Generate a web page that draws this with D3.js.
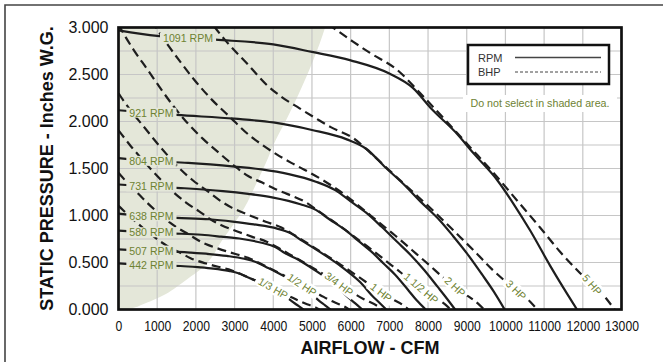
<!DOCTYPE html>
<html>
<head>
<meta charset="utf-8">
<script src="https://cdn.jsdelivr.net/npm/d3@7"></script>
<style>
  body { margin: 0; background: #fff; }
  svg { display: block; font-family: "Liberation Sans", Arial, sans-serif; }
</style>
</head>
<body>
<div class="fan_chart"></div>
<script>
// Axis ticks and grid
const xTicks = [0, 1000, 2000, 3000, 4000, 5000, 6000, 7000, 8000, 9000, 10000, 11000, 12000, 13000];
const yTicks = [0, 0.5, 1, 1.5, 2, 2.5, 3];
const yGrid = [0.25, 0.5, 0.75, 1, 1.25, 1.5, 1.75, 2, 2.25, 2.5, 2.75];

// Shaded "do not select" boundary [cfm, pressure]
const shadeEdge = [[0,0],[300,0.01],[600,0.05],[900,0.1],[1200,0.16],[1500,0.24],[1800,0.33],[2100,0.42],[2300,0.5],[2700,0.75],[3000,0.92],[3250,1.08],[3550,1.33],[3800,1.55],[4060,1.8],[4350,2.03],[4610,2.25],[4850,2.47],[5030,2.65],[5200,2.83],[5340,3.0]];

// RPM curves (solid) [cfm, static pressure]
const rpm1091 = [[0,2.97],[1000,2.91],[2500,2.87],[4000,2.82],[5000,2.74],[6000,2.65],[7000,2.51],[7600,2.36],[8100,2.13],[8700,1.89],[9200,1.65],[9800,1.37],[10200,1.13],[10640,0.84],[11150,0.47],[11500,0.23],[11850,0]];
const rpm921 = [[0,2.12],[1500,2.07],[3000,2.03],[4000,1.99],[5000,1.91],[5900,1.81],[6400,1.71],[6900,1.51],[7350,1.34],[7800,1.15],[8300,0.95],[8650,0.78],[9000,0.6],[9400,0.37],[9700,0.19],[9980,0]];
const rpm804 = [[0,1.61],[800,1.58],[1800,1.56],[3000,1.52],[3700,1.49],[4400,1.44],[5100,1.36],[5600,1.27],[6000,1.15],[6400,1.03],[6800,0.88],[7200,0.72],[7550,0.58],[7900,0.42],[8250,0.24],[8480,0.12],[8700,0]];
const rpm731 = [[0,1.33],[700,1.31],[1700,1.29],[2700,1.26],[3350,1.23],[4000,1.19],[4700,1.12],[5100,1.06],[5450,0.96],[5850,0.85],[6200,0.73],[6550,0.61],[6850,0.49],[7150,0.37],[7500,0.2],[7700,0.1],[7940,0]];
const rpm638 = [[0,1.02],[600,0.995],[1500,0.975],[2350,0.96],[2950,0.935],[3500,0.905],[4100,0.86],[4450,0.81],[4750,0.73],[5100,0.64],[5400,0.56],[5750,0.46],[6000,0.38],[6250,0.29],[6550,0.15],[6750,0.07],[6920,0]];
const rpm580 = [[0,0.84],[550,0.825],[1350,0.81],[2150,0.795],[2650,0.775],[3200,0.75],[3700,0.71],[4050,0.665],[4300,0.6],[4650,0.53],[4900,0.465],[5200,0.385],[5430,0.315],[5650,0.245],[5930,0.13],[6120,0.065],[6300,0]];
const rpm507 = [[0,0.64],[470,0.63],[1150,0.62],[1850,0.605],[2350,0.59],[2800,0.57],[3250,0.54],[3550,0.505],[3800,0.455],[4050,0.405],[4300,0.35],[4550,0.29],[4750,0.235],[4950,0.175],[5180,0.095],[5340,0.045],[5480,0]];
const rpm442 = [[0,0.49],[400,0.48],[1000,0.47],[1600,0.463],[2050,0.45],[2450,0.435],[2850,0.41],[3100,0.385],[3300,0.35],[3550,0.305],[3750,0.265],[4000,0.215],[4150,0.18],[4330,0.135],[4520,0.075],[4650,0.038],[4780,0]];

const rpmCurves = [rpm1091, rpm921, rpm804, rpm731, rpm638, rpm580, rpm507, rpm442];
const rpmNames = ["1091 RPM", "921 RPM", "804 RPM", "731 RPM", "638 RPM", "580 RPM", "507 RPM", "442 RPM"];
const rpmLabelCfm = [1150, 280, 280, 280, 280, 280, 280, 280];

// BHP curves (dashed) [cfm, static pressure]
const hp13 = [[0,1.104],[58,1.081],[239,1.009],[446,0.935],[648,0.861],[863,0.79],[1069,0.727],[1328,0.659],[1580,0.607],[1863,0.546],[2025,0.52],[2246,0.492],[2454,0.467],[2633,0.448],[2916,0.418],[3159,0.377],[3434,0.328],[3677,0.284],[3929,0.238],[4172,0.19],[4415,0.143],[4617,0.102],[4828,0.064],[5103,0.02],[5192,0]];
const hp12 = [[0,1.454],[66,1.423],[274,1.328],[512,1.231],[744,1.134],[990,1.041],[1228,0.957],[1525,0.868],[1814,0.799],[2139,0.719],[2325,0.685],[2578,0.648],[2818,0.616],[3023,0.59],[3348,0.551],[3627,0.497],[3943,0.432],[4222,0.374],[4511,0.313],[4790,0.251],[5069,0.188],[5301,0.134],[5543,0.084],[5859,0.026],[5961,0]];
const hp34 = [[0,1.905],[76,1.865],[314,1.74],[585,1.61],[851,1.486],[1133,1.364],[1404,1.254],[1745,1.138],[2075,1.047],[2447,0.942],[2660,0.897],[2950,0.849],[3224,0.807],[3458,0.773],[3830,0.722],[4150,0.651],[4511,0.566],[4831,0.49],[5160,0.41],[5480,0.328],[5799,0.246],[6065,0.175],[6341,0.11],[6703,0.034],[6820,0]];
const hp1 = [[0,2.3],[83,2.25],[345,2.1],[644,1.95],[936,1.8],[1246,1.65],[1544,1.515],[1919,1.375],[2282,1.265],[2691,1.14],[2925,1.084],[3244,1.026],[3545,0.975],[3803,0.934],[4212,0.872],[4563,0.787],[4961,0.684],[5312,0.592],[5675,0.496],[6026,0.397],[6377,0.298],[6669,0.212],[6973,0.133],[7371,0.041],[7500,0]];
const hp15 = [[0,3.03],[95,2.96],[395,2.76],[737,2.56],[1072,2.36],[1427,2.16],[1769,1.99],[2198,1.81],[2613,1.66],[3082,1.5],[3350,1.42],[3715,1.35],[4060,1.28],[4355,1.23],[4824,1.145],[5226,1.03],[5682,0.9],[6084,0.777],[6499,0.651],[6901,0.521],[7303,0.391],[7638,0.278],[7986,0.175],[8442,0.054],[8589,0]];
const hp2 = [[105,3.58],[435,3.34],[811,3.1],[1179,2.87],[1570,2.65],[1946,2.45],[2417,2.23],[2874,2.05],[3390,1.85],[3685,1.76],[4087,1.65],[4466,1.56],[4791,1.49],[5306,1.37],[5749,1.25],[6250,1.09],[6692,0.94],[7149,0.787],[7591,0.63],[8033,0.472],[8402,0.337],[8785,0.212],[9286,0.065],[9448,0]];
const hp3 = [[120,4.69],[928,4.06],[1798,3.43],[2228,3.15],[2768,2.86],[3292,2.63],[3882,2.37],[4220,2.26],[4680,2.14],[5115,2.03],[5486,1.94],[6077,1.82],[6583,1.64],[7157,1.42],[7664,1.23],[8187,1.03],[8693,0.826],[9200,0.62],[9622,0.44],[10060,0.278],[10634,0.085],[10820,0]];
const hp5 = [[4600,3.33],[5000,3.17],[5545,3.0],[6060,2.85],[6500,2.73],[7200,2.55],[7800,2.3],[8480,2.0],[9080,1.73],[9700,1.45],[10300,1.16],[10900,0.87],[11400,0.62],[11920,0.39],[12600,0.12],[12820,0]];

const hpCurves = [hp13, hp12, hp34, hp1, hp15, hp2, hp3, hp5];
const hpNames = ["1/3 HP", "1/2 HP", "3/4 HP", "1 HP", "1 1/2 HP", "2 HP", "3 HP", "5 HP"];
const hpLabelCfm = [3993, 4743, 5698, 6785, 7819, 8697, 10274, 12238];

const labelGreen = "#6e8232";
const shadeColor = "#e4e7d9";

function createFanChart() {
  const width = 663, height = 362;

  const svg = d3.select(".fan_chart").append("svg")
      .attr("width", width)
      .attr("height", height);

  const x = d3.scaleLinear().domain([0, 13000]).range([118.5, 621.5]);
  const y = d3.scaleLinear().domain([0, 3]).range([309.5, 27.5]);

  // outer frame (top and left only)
  svg.append("path")
      .attr("d", `M5,${height}V5H${width}`)
      .attr("fill", "none")
      .attr("stroke", "#444")
      .attr("stroke-width", 1.6);

  svg.append("clipPath").attr("id", "plotClip")
    .append("rect")
      .attr("x", x(0)).attr("y", y(3))
      .attr("width", x(13000) - x(0)).attr("height", y(0) - y(3));

  const plot = svg.append("g").attr("clip-path", "url(#plotClip)");

  // shaded area
  const shadeArea = d3.area()
      .x0(x(0))
      .x1(d => x(d[0]))
      .y(d => y(d[1]))
      .curve(d3.curveMonotoneY);
  plot.append("path")
      .datum(shadeEdge)
      .attr("fill", shadeColor)
      .attr("d", shadeArea);

  // grid
  plot.append("g").selectAll("line")
      .data(xTicks)
      .enter().append("line")
      .attr("x1", d => x(d)).attr("x2", d => x(d))
      .attr("y1", y(0)).attr("y2", y(3))
      .attr("stroke", "#c6c6c6").attr("stroke-width", 1.2);
  plot.append("g").selectAll("line")
      .data(yGrid)
      .enter().append("line")
      .attr("x1", x(0)).attr("x2", x(13000))
      .attr("y1", d => y(d)).attr("y2", d => y(d))
      .attr("stroke", "#c6c6c6").attr("stroke-width", 1.2);

  const line = d3.line()
      .x(d => x(d[0]))
      .y(d => y(d[1]))
      .curve(d3.curveMonotoneX);

  // BHP dashed curves
  plot.append("g").selectAll("path")
      .data(hpCurves)
      .enter().append("path")
      .attr("d", line)
      .attr("fill", "none")
      .attr("stroke", "#1e1e1e")
      .attr("stroke-width", 2.2)
      .attr("stroke-dasharray", "9,5");

  // RPM solid curves
  plot.append("g").selectAll("path")
      .data(rpmCurves)
      .enter().append("path")
      .attr("d", line)
      .attr("fill", "none")
      .attr("stroke", "#1e1e1e")
      .attr("stroke-width", 2.2);

  function pressureAt(curve, cfm) {
    for (let i = 0; i < curve.length - 1; i++) {
      const a = curve[i], b = curve[i + 1];
      if (cfm >= a[0] && cfm <= b[0]) {
        return a[1] + (b[1] - a[1]) * (cfm - a[0]) / (b[0] - a[0]);
      }
    }
    return curve[curve.length - 1][1];
  }

  // RPM labels, with a gap in the line behind them
  rpmNames.forEach((name, i) => {
    const c = rpmLabelCfm[i];
    const g = plot.append("g")
        .attr("transform", `translate(${x(c)},${y(pressureAt(rpmCurves[i], c + 600))})`);
    const t = g.append("text")
        .attr("dy", "0.35em")
        .style("font-size", "10.6px")
        .style("fill", labelGreen)
        .text(name);
    const bb = t.node().getBBox();
    g.insert("rect", "text")
        .attr("x", bb.x - 3).attr("y", bb.y + 1)
        .attr("width", bb.width + 6).attr("height", bb.height - 2)
        .attr("fill", shadeColor);
  });

  // BHP labels, rotated along the dashed line
  hpNames.forEach((name, i) => {
    const c = hpLabelCfm[i];
    const curve = hpCurves[i];
    const px = x(c), py = y(pressureAt(curve, c));
    const ax = x(c - 150), ay = y(pressureAt(curve, c - 150));
    const bx = x(c + 150), by = y(pressureAt(curve, c + 150));
    const angle = Math.atan2(by - ay, bx - ax) * 180 / Math.PI + 5;
    const g = plot.append("g")
        .attr("transform", `translate(${px},${py}) rotate(${angle})`);
    const t = g.append("text")
        .attr("text-anchor", "middle")
        .attr("dy", "0.35em")
        .style("font-size", "10.6px")
        .style("fill", labelGreen)
        .text(name);
    const bb = t.node().getBBox();
    g.insert("rect", "text")
        .attr("x", bb.x - 3).attr("y", bb.y)
        .attr("width", bb.width + 6).attr("height", bb.height)
        .attr("fill", "#fff");
  });

  // plot frame
  svg.append("rect")
      .attr("x", x(0)).attr("y", y(3))
      .attr("width", x(13000) - x(0)).attr("height", y(0) - y(3))
      .attr("fill", "none")
      .attr("stroke", "#111")
      .attr("stroke-width", 2.7);

  // axes
  const xAxis = svg.append("g")
      .attr("transform", `translate(0,${y(0)})`)
      .call(d3.axisBottom(x).tickValues(xTicks).tickFormat(d3.format("d")).tickSize(0).tickPadding(11));
  xAxis.select(".domain").remove();
  xAxis.selectAll("text")
      .attr("transform", "scale(0.84,1)")
      .style("font-size", "14.5px")
      .style("fill", "#111")
      .style("font-family", '"Liberation Sans", Arial, sans-serif');

  const yAxis = svg.append("g")
      .attr("transform", `translate(${x(0)},0)`)
      .call(d3.axisLeft(y).tickValues(yTicks).tickFormat(d3.format(".3f")).tickSize(0).tickPadding(10));
  yAxis.select(".domain").remove();
  yAxis.selectAll("text")
      .style("font-size", "16px")
      .style("fill", "#111")
      .style("font-family", '"Liberation Sans", Arial, sans-serif');

  // axis titles
  svg.append("text")
      .attr("x", (x(0) + x(13000)) / 2)
      .attr("y", 354)
      .attr("text-anchor", "middle")
      .style("font-size", "18px")
      .style("font-weight", "bold")
      .style("fill", "#111")
      .text("AIRFLOW - CFM");

  svg.append("text")
      .attr("transform", `translate(53,${(y(0) + y(3)) / 2}) rotate(-90)`)
      .attr("text-anchor", "middle")
      .style("font-size", "18px")
      .style("font-weight", "bold")
      .style("fill", "#111")
      .text("STATIC PRESSURE - Inches W.G.");

  // legend
  const legend = svg.append("g");
  legend.append("rect")
      .attr("x", 468).attr("y", 45)
      .attr("width", 141).attr("height", 39)
      .attr("fill", "#fff")
      .attr("stroke", "#111")
      .attr("stroke-width", 2.5);
  legend.append("text")
      .attr("x", 478).attr("y", 62)
      .style("font-size", "11px").style("fill", "#333")
      .text("RPM");
  legend.append("text")
      .attr("x", 478).attr("y", 76)
      .style("font-size", "11px").style("fill", "#333")
      .text("BHP");
  legend.append("line")
      .attr("x1", 515).attr("x2", 601).attr("y1", 57.5).attr("y2", 57.5)
      .attr("stroke", "#444").attr("stroke-width", 1.3);
  legend.append("line")
      .attr("x1", 515).attr("x2", 601).attr("y1", 72).attr("y2", 72)
      .attr("stroke", "#444").attr("stroke-width", 1)
      .attr("stroke-dasharray", "3,2");

  svg.append("rect")
      .attr("x", 463).attr("y", 95)
      .attr("width", 154).attr("height", 17)
      .attr("fill", "#fff");
  svg.append("text")
      .attr("x", 540).attr("y", 106.5)
      .attr("text-anchor", "middle")
      .style("font-size", "10.7px")
      .style("fill", labelGreen)
      .text("Do not select in shaded area.");
}

createFanChart();
</script>
</body>
</html>
